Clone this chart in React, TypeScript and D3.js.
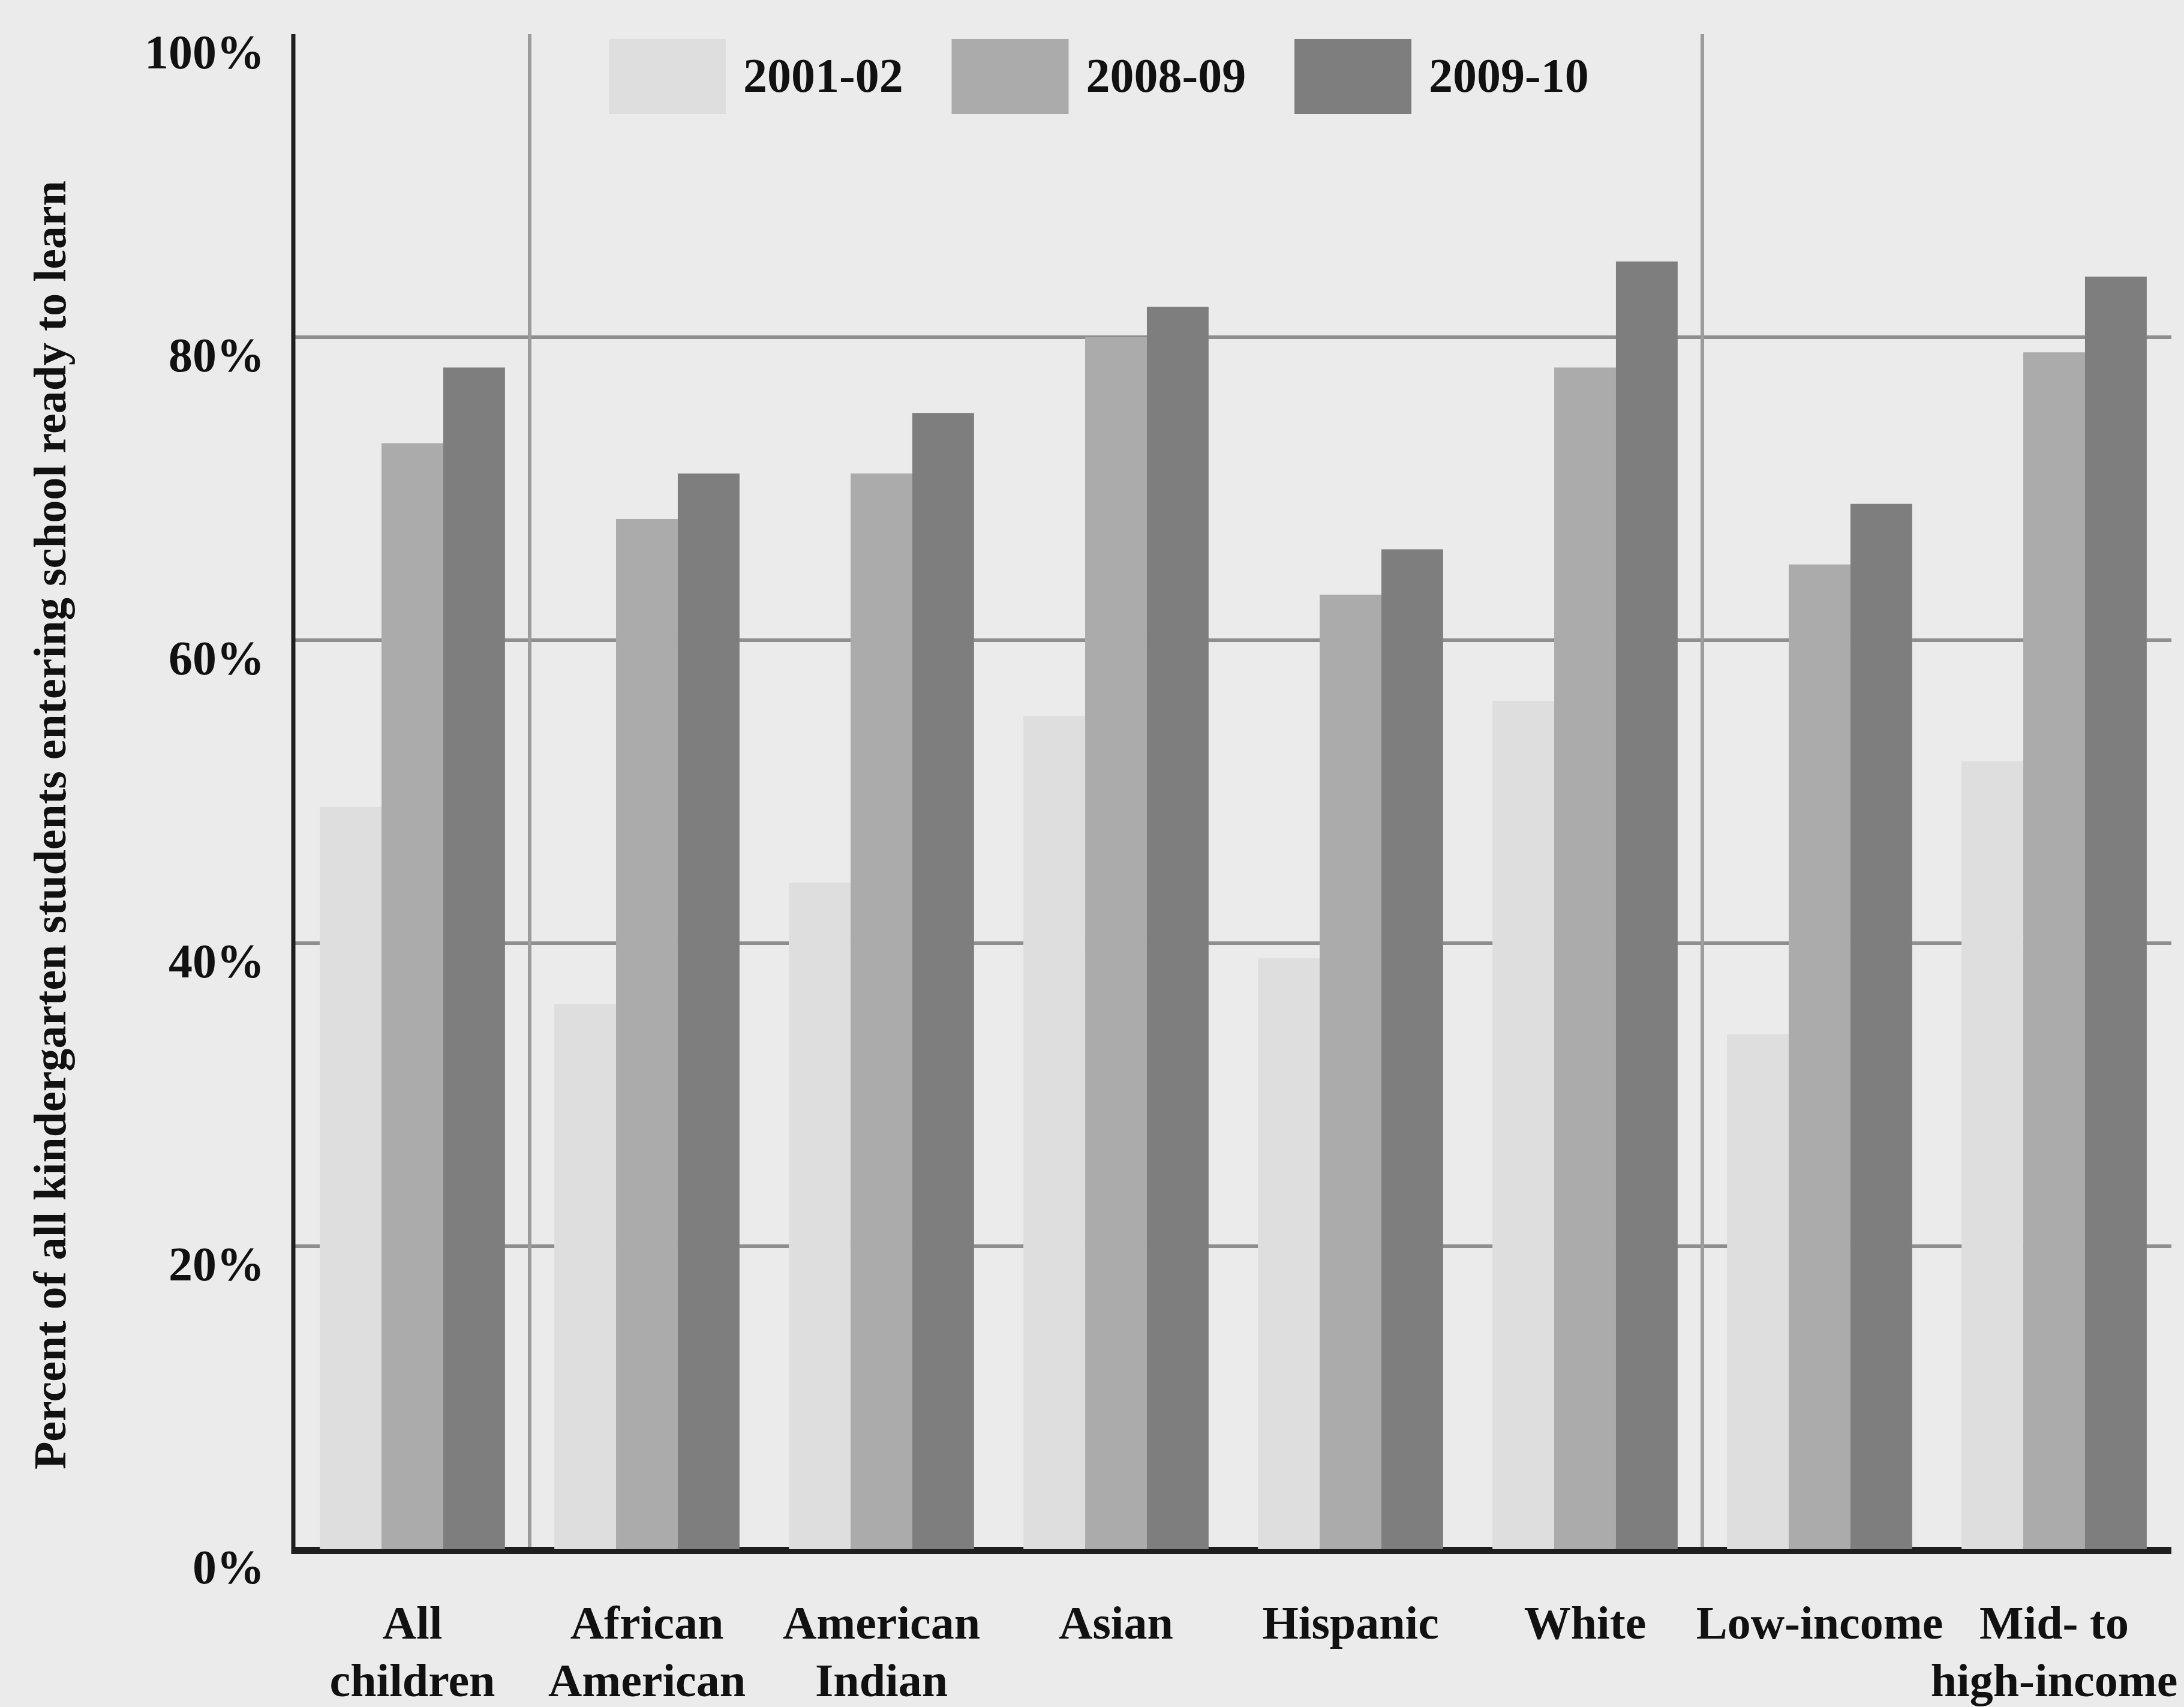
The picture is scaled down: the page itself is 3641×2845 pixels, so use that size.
import React from "react";
import * as d3 from "d3";

const categories = ["All children", "African American", "American Indian", "Asian", "Hispanic", "White", "Low-income", "Mid- to high-income"];
const categoryLines = [["All", "children"], ["African", "American"], ["American", "Indian"], ["Asian"], ["Hispanic"], ["White"], ["Low-income"], ["Mid- to", "high-income"]];
const seriesNames = ["2001-02", "2008-09", "2009-10"];
const values2001 = [49, 36, 44, 55, 39, 56, 34, 52];
const values2008 = [73, 68, 71, 80, 63, 78, 65, 79];
const values2009 = [78, 71, 75, 82, 66, 85, 69, 84];
const yTicks = [0, 20, 40, 60, 80, 100];
const gridTicks = [20, 40, 60, 80];
const separatorAfter = ["All children", "White"];
const yTitle = "Percent of all kindergarten students entering school ready to learn";

const W = 3641;
const H = 2845;
const FONT = "'Liberation Serif', 'DejaVu Serif', 'Times New Roman', serif";
const seriesFill = ["#dedede", "#ababab", "#7e7e7e"];

export default function App() {
  const series = [values2001, values2008, values2009];
  const x0 = d3.scaleBand<string>().domain(categories).range([492, 492 + 8 * 391]).paddingInner(0).paddingOuter(0);
  const x1 = d3.scaleBand<string>().domain(seriesNames).range([0, x0.bandwidth()]).paddingInner(0).paddingOuter(0.4);
  const y = d3.scaleLinear().domain([0, 100]).range([2582, 57]);
  const legendX = d3.scalePoint<string>().domain(seriesNames).range([1015, 2158]);

  return (
    <svg width={W} height={H} style={{ position: "absolute", left: 0, top: 0, display: "block" }} fontFamily={FONT} fontWeight="bold">
      <rect x={0} y={0} width={W} height={H} fill="#ebebeb" />
      {gridTicks.map((t) => (
        <line key={"g" + t} x1={x0.range()[0]} x2={x0.range()[1]} y1={y(t)} y2={y(t)} stroke="#8e8e8e" strokeWidth={6} />
      ))}
      {separatorAfter.map((c) => {
        const xx = (x0(c) as number) + x0.bandwidth();
        return <line key={"s" + c} x1={xx} x2={xx} y1={y(100)} y2={y(0)} stroke="#9c9c9c" strokeWidth={6} />;
      })}
      <line x1={x0.range()[0] - 3} x2={x0.range()[1]} y1={y(0) + 2} y2={y(0) + 2} stroke="#1e1e1e" strokeWidth={12} />
      {categories.map((c, i) => (
        <g key={c} transform={`translate(${x0(c)},0)`}>
          {seriesNames.map((s, j) => (
            <rect key={s} x={x1(s)} width={x1.bandwidth()} y={y(series[j][i])} height={y(0) - y(series[j][i])} fill={seriesFill[j]} />
          ))}
        </g>
      ))}
      <line x1={489} x2={489} y1={y(100)} y2={y(0) + 8} stroke="#1e1e1e" strokeWidth={7} />
      {yTicks.map((t) => (
        <text key={"t" + t} x={441} y={y(t) + 57} textAnchor="end" fontSize={80} fill="#111">
          {t + "%"}
        </text>
      ))}
      {categories.map((c, i) => (
        <text key={"l" + c} x={(x0(c) as number) + x0.bandwidth() / 2} textAnchor="middle" fontSize={78} fill="#111">
          {categoryLines[i].map((ln, k) => (
            <tspan key={k} x={(x0(c) as number) + x0.bandwidth() / 2} y={2731 + k * 96}>
              {ln}
            </tspan>
          ))}
        </text>
      ))}
      <text transform={`translate(109,1375) rotate(-90)`} textAnchor="middle" fontSize={76} fill="#111">
        {yTitle}
      </text>
      {seriesNames.map((s, j) => (
        <g key={"lg" + s} transform={`translate(${legendX(s)},0)`}>
          <rect x={0} y={65} width={195} height={125} fill={seriesFill[j]} />
          <text x={224} y={153} fontSize={80} fill="#111">
            {s}
          </text>
        </g>
      ))}
    </svg>
  );
}
